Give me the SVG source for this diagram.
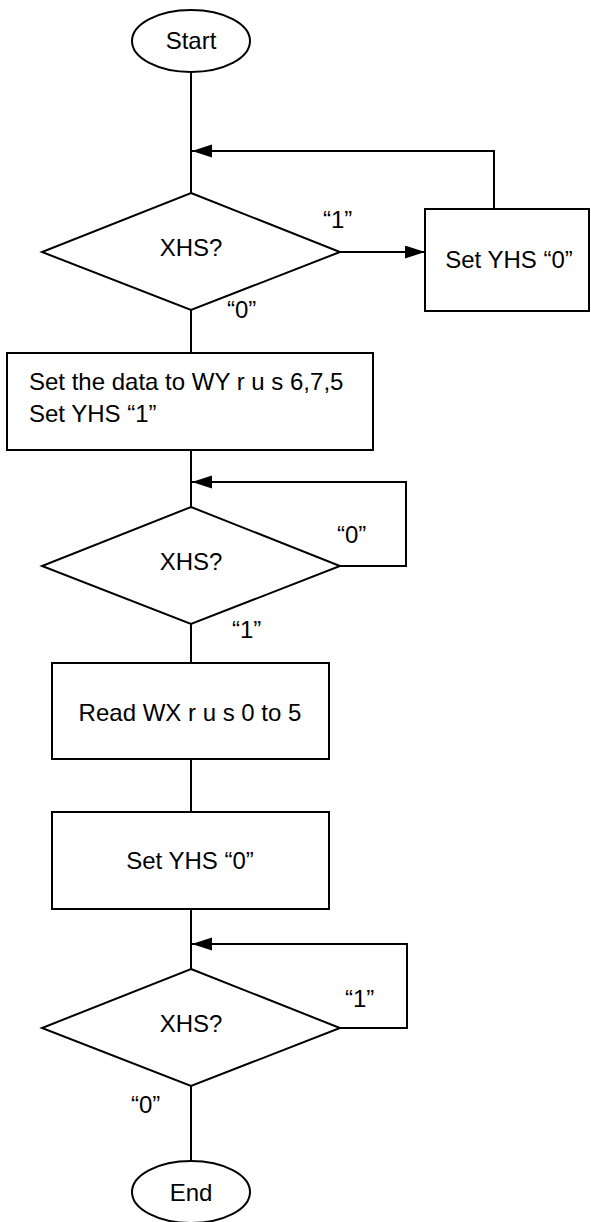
<svg xmlns="http://www.w3.org/2000/svg" width="591" height="1222" viewBox="0 0 591 1222">
<style>
.s{fill:#fff;stroke:#000;stroke-width:2}
.c{fill:none;stroke:#000;stroke-width:2}
text{font-family:"Liberation Sans",Arial,sans-serif;font-size:24px;fill:#000}
.m{text-anchor:middle}
</style>
<defs>
<marker id="ah" markerUnits="userSpaceOnUse" markerWidth="20" markerHeight="14" refX="20" refY="6.5" orient="auto">
<path d="M0,0 L20,6.5 L0,13 z" fill="#000"/>
</marker>
</defs>
<rect width="591" height="1222" fill="#fff"/>
<g id="connectors">
<path class="c" d="M191,72 V193"/>
<path class="c" d="M191,310 V353"/>
<path class="c" d="M191,450 V507"/>
<path class="c" d="M191,624 V663"/>
<path class="c" d="M191,759 V812"/>
<path class="c" d="M191,909 V969"/>
<path class="c" d="M191,1086 V1161"/>
<path class="c" d="M340,252 H425" marker-end="url(#ah)"/>
<path class="c" d="M494,209 V151 H192" marker-end="url(#ah)"/>
<path class="c" d="M340,566 H406 V482 H192" marker-end="url(#ah)"/>
<path class="c" d="M340,1028 H407 V944 H192" marker-end="url(#ah)"/>
<text x="323" y="228">“1”</text>
<text x="227" y="318">“0”</text>
<text x="337" y="543">“0”</text>
<text x="232" y="638">“1”</text>
<text x="345" y="1007">“1”</text>
<text x="131" y="1113">“0”</text>
</g>
<g id="start">
<ellipse class="s" cx="191" cy="41" rx="59" ry="31"/>
<text class="m" x="191" y="49">Start</text>
</g>
<g id="decision1">
<polygon class="s" points="191,193 340,252 191,310 42,252"/>
<text class="m" x="191" y="256">XHS?</text>
</g>
<g id="setYHS0a">
<rect class="s" x="425" y="209" width="164" height="102"/>
<text class="m" x="509" y="268">Set YHS “0”</text>
</g>
<g id="setData">
<rect class="s" x="7" y="353" width="366" height="97"/>
<text x="29" y="390">Set the data to WY r u s 6,7,5</text>
<text x="29" y="422">Set YHS “1”</text>
</g>
<g id="decision2">
<polygon class="s" points="191,507 340,566 191,624 42,566"/>
<text class="m" x="191" y="570">XHS?</text>
</g>
<g id="readWX">
<rect class="s" x="52" y="663" width="277" height="96"/>
<text class="m" x="190" y="721">Read WX r u s 0 to 5</text>
</g>
<g id="setYHS0b">
<rect class="s" x="52" y="812" width="277" height="97"/>
<text class="m" x="190" y="869">Set YHS “0”</text>
</g>
<g id="decision3">
<polygon class="s" points="191,969 340,1028 191,1086 42,1028"/>
<text class="m" x="191" y="1032">XHS?</text>
</g>
<g id="end">
<ellipse class="s" cx="191" cy="1192" rx="59" ry="31"/>
<text class="m" x="191" y="1201">End</text>
</g>
</svg>
